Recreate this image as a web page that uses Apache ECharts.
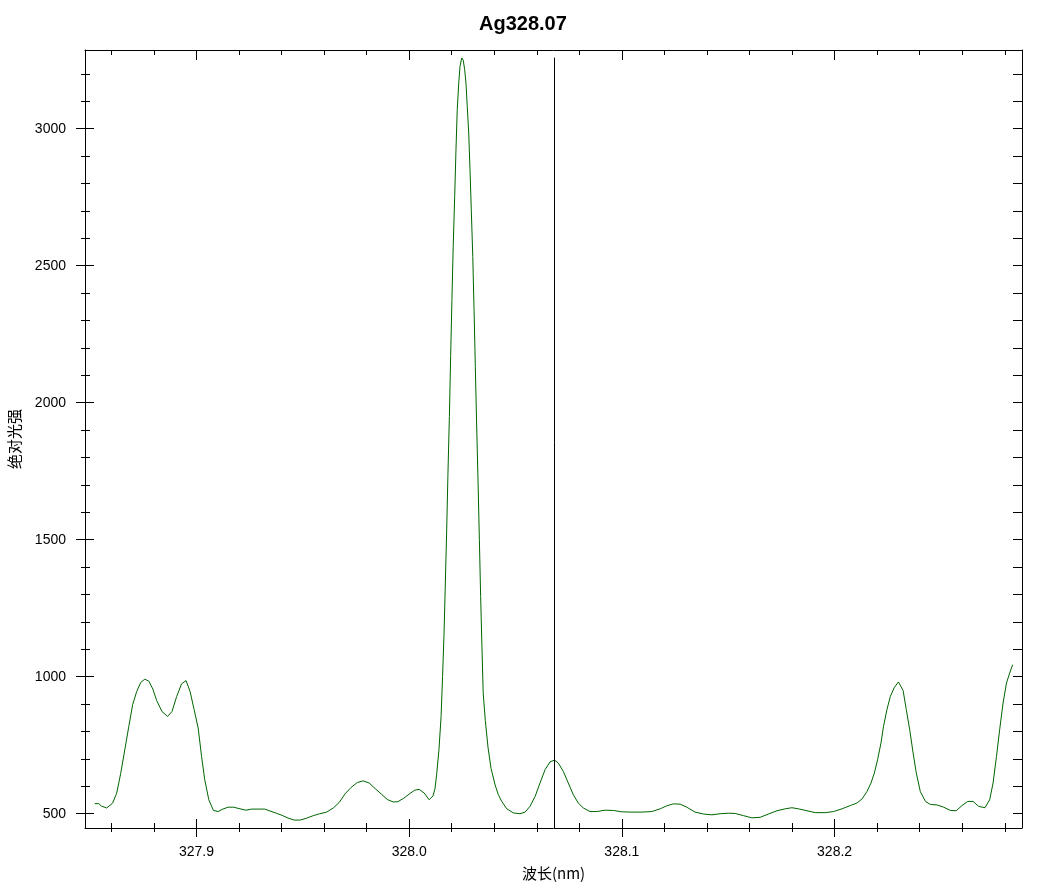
<!DOCTYPE html>
<html><head><meta charset="utf-8">
<script src="https://cdn.jsdelivr.net/npm/echarts@6/dist/echarts.min.js"></script>
<style>html,body{margin:0;padding:0;background:#fff}#c{width:1039px;height:889px}</style>
</head><body><div id="c"></div>
<script>
const wavelengths = [
327.8522,327.8541,327.8553,327.8578,327.8606,327.8625,327.8644,327.8663,327.8682,327.8700,
327.8719,327.8738,327.8757,327.8776,327.8795,327.8813,327.8838,327.8864,327.8885,327.8907,
327.8930,327.8951,327.8970,327.8989,327.9008,327.9024,327.9039,327.9058,327.9080,327.9102,
327.9124,327.9149,327.9174,327.9205,327.9233,327.9259,327.9290,327.9321,327.9346,327.9375,
327.9403,327.9431,327.9459,327.9488,327.9518,327.9549,327.9580,327.9612,327.9643,327.9671,
327.9699,327.9727,327.9756,327.9784,327.9812,327.9840,327.9869,327.9897,327.9925,327.9947,
327.9975,328.0004,328.0026,328.0047,328.0070,328.0094,328.0112,328.0121,328.0129,328.0140,
328.0150,328.0157,328.0164,328.0170,328.0176,328.0182,328.0189,328.0195,328.0201,328.0207,
328.0214,328.0220,328.0226,328.0233,328.0239,328.0247,328.0254,328.0261,328.0267,328.0273,
328.0280,328.0286,328.0292,328.0299,328.0305,328.0311,328.0317,328.0324,328.0330,328.0336,
328.0342,328.0348,328.0358,328.0371,328.0385,328.0404,328.0419,328.0435,328.0459,328.0490,
328.0521,328.0545,328.0568,328.0592,328.0615,328.0639,328.0662,328.0683,328.0701,328.0725,
328.0748,328.0772,328.0795,328.0819,328.0850,328.0882,328.0921,328.0960,328.1000,328.1047,
328.1094,328.1141,328.1180,328.1211,328.1242,328.1274,328.1305,328.1344,328.1384,328.1423,
328.1462,328.1501,328.1533,328.1572,328.1611,328.1650,328.1689,328.1729,328.1768,328.1799,
328.1830,328.1870,328.1909,328.1956,328.1995,328.2035,328.2074,328.2105,328.2129,328.2152,
328.2171,328.2187,328.2202,328.2218,328.2230,328.2246,328.2262,328.2281,328.2300,328.2322,
328.2337,328.2353,328.2369,328.2384,328.2403,328.2427,328.2450,328.2482,328.2513,328.2544,
328.2572,328.2599,328.2626,328.2651,328.2677,328.2707,328.2729,328.2745,328.2761,328.2776,
328.2792,328.2808,328.2823,328.2837
];
const intensities = [
537,537,528,521,539,575,648,733,819,898,
946,979,991,984,955,913,873,855,873,928,
974,986,946,880,813,709,624,551,512,508,
517,524,524,518,513,517,517,517,510,502,
494,484,477,477,484,493,500,506,521,541,
573,596,614,620,612,592,572,552,543,544,
557,574,586,589,576,551,565,590,642,734,
855,1001,1159,1342,1524,1731,1950,2169,2376,2571,
2753,2923,3069,3167,3227,3258,3250,3215,3167,3081,
2984,2850,2704,2534,2339,2132,1926,1707,1500,1293,
1111,940,840,740,665,605,570,545,518,503,
500,506,527,563,612,661,689,696,685,654,
612,569,539,521,508,508,513,512,507,506,
506,508,518,529,536,535,524,506,499,496,
500,502,501,493,485,487,499,511,518,522,
518,511,504,504,508,518,530,539,554,581,
612,649,697,758,819,880,928,961,981,950,
880,807,722,649,581,545,534,532,524,512,
511,530,545,545,527,522,551,612,709,807,
904,977,1013,1044
];
const xMajorTicks = [327.9, 328.0, 328.1, 328.2];
const xMinorTicks = [327.86, 327.88, 327.92, 327.94, 327.96, 327.98, 328.02, 328.04, 328.06, 328.08, 328.12, 328.14, 328.16, 328.18, 328.22, 328.24, 328.26, 328.28];
const yMajorTicks = [500, 1000, 1500, 2000, 2500, 3000];
const yMinorTicks = [600, 700, 800, 900, 1100, 1200, 1300, 1400, 1600, 1700, 1800, 1900, 2100, 2200, 2300, 2400, 2600, 2700, 2800, 2900, 3100, 3200];
const yRightTicks = [500, 600, 700, 800, 900, 1000, 1100, 1200, 1300, 1400, 1500, 1600, 1700, 1800, 1900, 2000, 2100, 2200, 2300, 2400, 2500, 2600, 2700, 2800, 2900, 3000, 3100, 3200];
const markerWavelength = 328.068;
const markerTop = 3259;
const xRange = [327.8476, 328.2881];
const yRange = [448, 3287];
const titleText = 'Ag328.07';
const xName = '波长(nm)';
const yName = '绝对光强';

const numFont = 'Liberation Sans, Arial, sans-serif';
const cjkFont = 'Noto Sans CJK SC, sans-serif';

function xAx(pos, line, ticks, inside, len, labels) {
  return {
    type: 'value', position: pos, min: xRange[0], max: xRange[1],
    splitLine: { show: false },
    axisLine: { show: line, onZero: false, lineStyle: { color: '#000', width: 1 } },
    axisTick: { show: true, inside: inside, length: len, customValues: ticks, lineStyle: { color: '#000', width: 1 } },
    axisLabel: labels ? {
      show: true, customValues: xMajorTicks, margin: 17, color: '#000', fontSize: 14, fontFamily: numFont,
      formatter: v => v.toFixed(1)
    } : { show: false },
    name: labels ? xName : '', nameLocation: 'middle', nameGap: 38,
    nameTextStyle: { color: '#000', fontSize: 15, fontFamily: cjkFont }
  };
}
function yAx(pos, line, ticks, inside, len, labels) {
  return {
    type: 'value', position: pos, min: yRange[0], max: yRange[1],
    splitLine: { show: false },
    axisLine: { show: line, onZero: false, lineStyle: { color: '#000', width: 1 } },
    axisTick: { show: true, inside: inside, length: len, customValues: ticks, lineStyle: { color: '#000', width: 1 } },
    axisLabel: labels ? {
      show: true, customValues: yMajorTicks, margin: 19, color: '#000', fontSize: 14, fontFamily: numFont,
      formatter: v => String(Math.round(v))
    } : { show: false },
    name: labels ? yName : '', nameLocation: 'middle', nameGap: 63,
    nameTextStyle: { color: '#000', fontSize: 15, fontFamily: cjkFont }
  };
}

const chart = echarts.init(document.getElementById('c'), null, { renderer: 'canvas' });
chart.setOption({
  backgroundColor: '#fff',
  animation: false,
  title: {
    text: titleText, left: 474, top: 9,
    textStyle: { color: '#000', fontSize: 20, fontWeight: 'bold', fontFamily: numFont }
  },
  grid: { left: 85, right: 17, top: 50, bottom: 61, containLabel: false, outerBoundsMode: 'none' },
  xAxis: [
    xAx('bottom', true, xMajorTicks, false, 9, true),
    xAx('bottom', false, xMajorTicks, true, 9, false),
    xAx('bottom', false, xMinorTicks, false, 4, false),
    xAx('bottom', false, xMinorTicks, true, 5, false),
    xAx('top', true, xMajorTicks, true, 10, false),
    xAx('top', false, xMinorTicks, true, 5, false)
  ],
  yAxis: [
    yAx('left', true, yMajorTicks, false, 9, true),
    yAx('left', false, yMajorTicks, true, 9, false),
    yAx('left', false, yMinorTicks, false, 4, false),
    yAx('left', false, yMinorTicks, true, 5, false),
    yAx('right', true, yRightTicks, true, 9, false)
  ],
  series: [{
    type: 'line',
    xAxisIndex: 0, yAxisIndex: 0,
    data: wavelengths.map((w, i) => [w, intensities[i]]),
    showSymbol: false, symbol: 'none',
    lineStyle: { color: '#006400', width: 1 },
    smooth: false,
    silent: true,
    markLine: {
      silent: true, symbol: ['none', 'none'],
      label: { show: false },
      lineStyle: { color: '#000', width: 1, type: 'solid' },
      data: [[{ coord: [markerWavelength, yRange[0]] }, { coord: [markerWavelength, markerTop] }]]
    }
  }]
});
</script>
</body></html>
